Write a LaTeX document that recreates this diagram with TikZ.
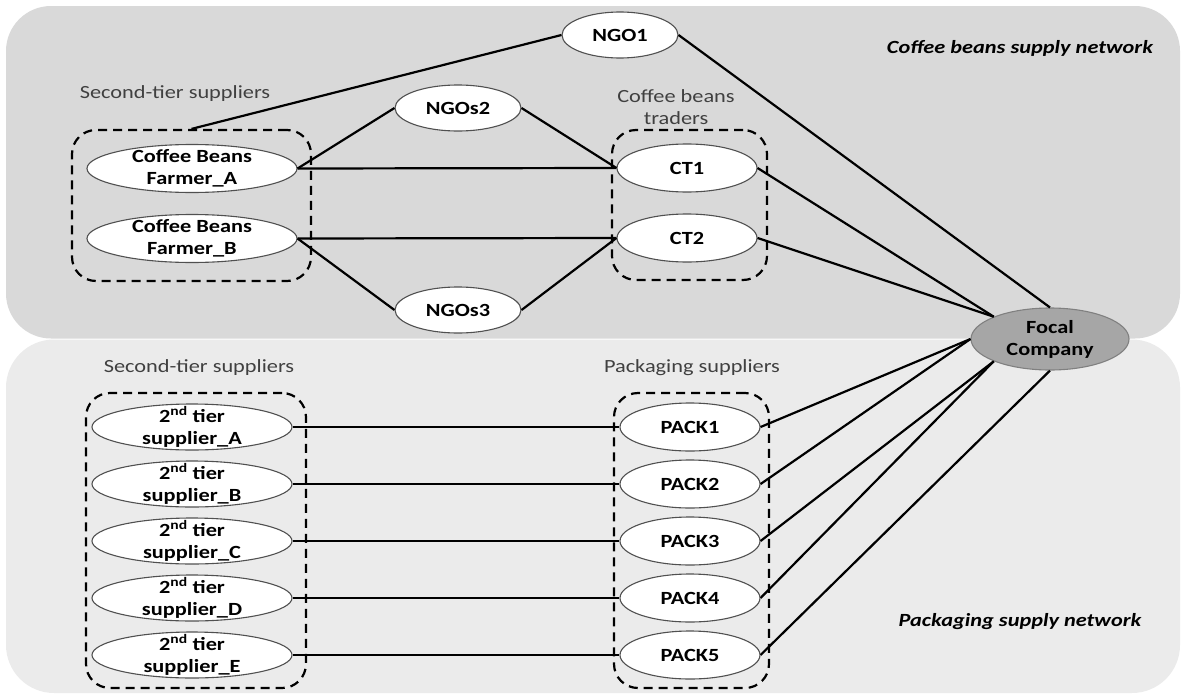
\documentclass[tikz,border=0pt]{standalone}
\usepackage{fontspec}
\setmainfont[FakeStretch=1.2]{Carlito}
\usetikzlibrary{shapes.geometric}
\definecolor{panelA}{HTML}{D9D9D9}
\definecolor{panelB}{HTML}{EBEBEB}
\definecolor{focalfill}{HTML}{A6A6A6}
\definecolor{focalborder}{HTML}{808080}
\definecolor{ellborder}{HTML}{505050}
\definecolor{labelgray}{HTML}{404040}
\begin{document}
\begin{tikzpicture}[x=1pt,y=-1pt,
  font=\fontsize{18.6}{22}\selectfont,
  ell/.style={ellipse, draw=ellborder, line width=1.1pt, fill=white, inner sep=0pt},
  farmer/.style={ell, minimum width=210pt, minimum height=48pt},
  ngo/.style={ell, minimum width=126pt, minimum height=46pt},
  trader/.style={ell, minimum width=140pt, minimum height=48pt},
  supp/.style={ell, minimum width=200pt, minimum height=46pt},
  focal/.style={ellipse, draw=focalborder, line width=1.1pt, fill=focalfill, inner sep=0pt, minimum width=158pt, minimum height=62pt},
  txt/.style={font=\fontsize{18.6}{22}\selectfont\bfseries, align=center, inner sep=0pt},
  hdr/.style={text=labelgray, align=center, inner sep=0pt},
  net/.style={font=\fontsize{18.6}{22}\selectfont\bfseries\itshape, inner sep=0pt},
  grp/.style={draw=black, line width=2.2pt, dash pattern=on 9pt off 6pt, rounded corners=24pt, inner sep=0pt},
  conn/.style={draw=black, line width=2.2pt}
]
\useasboundingbox (0,0) rectangle (1182,696);
% panels
\fill[panelA, rounded corners=45pt] (6,6) rectangle (1180,338.5);
\fill[panelB, rounded corners=48pt] (6,339.5) rectangle (1180,693);

% group boxes
\node[grp, minimum width=239pt, minimum height=151pt] (gfarm) at (191.5,205.5) {};
\node[grp, minimum width=155pt, minimum height=150pt] (gct) at (689.5,205) {};
\node[grp, minimum width=220pt, minimum height=295pt] (gsup) at (196,540.5) {};
\node[grp, minimum width=155pt, minimum height=295pt] (gpack) at (691.5,540.5) {};

% headers
\node[hdr] (h1) at (175,94) {Second-tier suppliers};
\node[hdr] (h2) at (676,107.5) {Coffee beans\\traders};
\node[hdr] (h3) at (199,368) {Second-tier suppliers};
\node[hdr] (h4) at (692,368) {Packaging suppliers};
\node[net] (n1) at (1020,48) {Coffee beans supply network};
\node[net] (n2) at (1020,622) {Packaging supply network};

% coffee nodes
\node[ngo, minimum width=116pt] (ngo1) at (620,35) {};
\node[txt] (ngo1t) at (ngo1) {NGO1};
\node[ngo] (ngo2) at (458,108) {};
\node[txt] (ngo2t) at (ngo2) {NGOs2};
\node[ngo] (ngo3) at (458,310) {};
\node[txt] (ngo3t) at (ngo3) {NGOs3};
\node[farmer] (fa) at (192,168.5) {};
\node[txt] (fat) at (fa) {Coffee Beans\\Farmer\_A};
\node[farmer] (fb) at (192,238.5) {};
\node[txt] (fbt) at (fb) {Coffee Beans\\Farmer\_B};
\node[trader] (ct1) at (687,168) {};
\node[txt] (ct1t) at (ct1) {CT1};
\node[trader] (ct2) at (687,238) {};
\node[txt] (ct2t) at (ct2) {CT2};
\node[focal] (fc) at (1050,339) {};
\node[txt] (fct) at (fc) {Focal\\Company};

% packaging nodes
\foreach \l/\y [count=\i] in {A/427,B/484,C/541,D/598,E/655}{
  \node[supp] (s\i) at (192,\y) {};
  \node[txt] (s\i t) at (s\i) {2\textsuperscript{nd} tier\\supplier\_\l};
  \node[trader] (p\i) at (690,\y) {};
  \node[txt] (p\i t) at (p\i) {PACK\i};
}

% connectors
\draw[conn] (gfarm.north) -- (ngo1.west);
\draw[conn] (fa.east) -- (ngo2.west);
\draw[conn] (ngo2.east) -- (ct1.west);
\draw[conn] (fa.east) -- (ct1.west);
\draw[conn] (fb.east) -- (ct2.west);
\draw[conn] (fb.east) -- (ngo3.west);
\draw[conn] (ngo3.east) -- (ct2.west);
\draw[conn] (ngo1.east) -- (fc.north);
\draw[conn] (ct1.east) -- (fc.north west);
\draw[conn] (ct2.east) -- (fc.north west);
\foreach \i in {1,...,5}{
  \draw[conn] (s\i.east) -- (p\i.west);
}
\draw[conn] (p1.east) -- (fc.west);
\draw[conn] (p2.east) -- (fc.west);
\draw[conn] (p3.east) -- (fc.south west);
\draw[conn] (p4.east) -- (fc.south west);
\draw[conn] (p5.east) -- (fc.south);
\end{tikzpicture}
\end{document}
